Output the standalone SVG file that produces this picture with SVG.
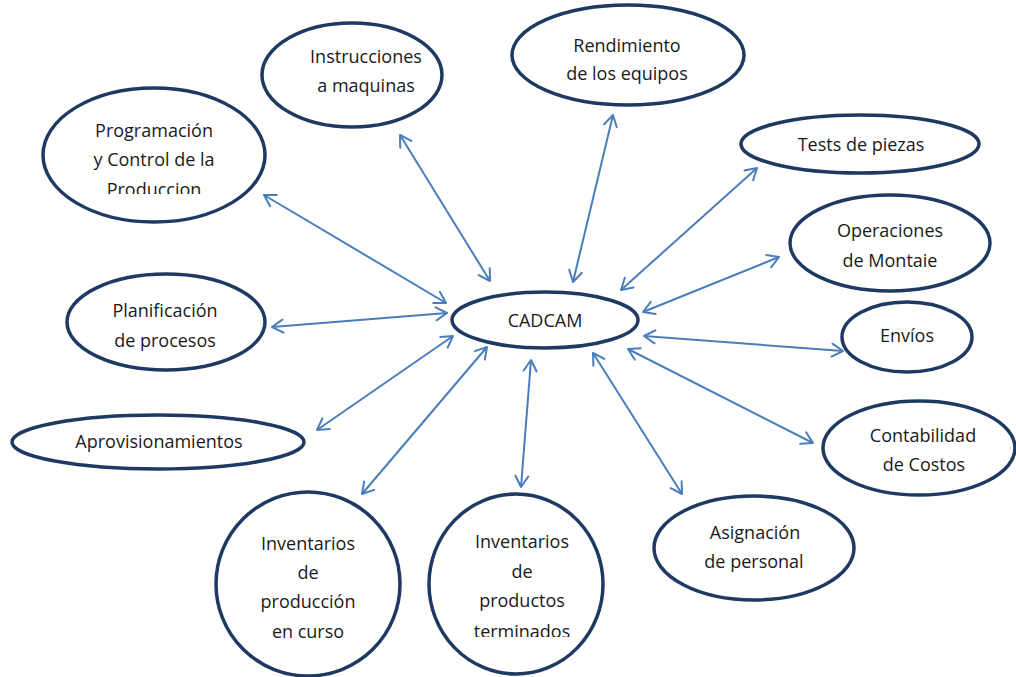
<svg xmlns="http://www.w3.org/2000/svg" width="1016" height="677" viewBox="0 0 1016 677">
  <style>
    .node ellipse { fill: #ffffff; stroke: #1f3a62; stroke-width: 3.5; }
    .node text { font-family: "Open Sans", "Liberation Sans", sans-serif; font-size: 18px; fill: #1a1a1a; text-anchor: middle; }
    #connectors line { stroke: #4a7ebb; stroke-width: 2; marker-start: url(#chev); marker-end: url(#chev); }
  </style>
  <defs>
    <marker id="chev" viewBox="-13 -8 15 16" refX="0" refY="0" markerWidth="15" markerHeight="16" markerUnits="userSpaceOnUse" orient="auto-start-reverse">
      <path d="M-11,-6.5 L0,0 L-11,6.5" fill="none" stroke="#4a7ebb" stroke-width="2" stroke-linecap="round" stroke-linejoin="round"/>
    </marker>
    <clipPath id="clipProg"><rect x="40" y="100" width="230" height="94"/></clipPath>
    <clipPath id="clipMont"><rect x="790" y="210" width="200" height="57"/></clipPath>
    <clipPath id="clipTerm"><rect x="430" y="520" width="175" height="117"/></clipPath>
  </defs>

  <rect width="1016" height="677" fill="#ffffff"/>

  <g id="connectors">
    <line x1="264" y1="195" x2="446" y2="303"/>
    <line x1="400" y1="135" x2="490" y2="281"/>
    <line x1="613" y1="115" x2="573" y2="282"/>
    <line x1="757" y1="168" x2="621" y2="290"/>
    <line x1="779" y1="257" x2="643" y2="312"/>
    <line x1="272" y1="327" x2="447" y2="313"/>
    <line x1="644" y1="336" x2="843" y2="351"/>
    <line x1="628" y1="349" x2="813" y2="443"/>
    <line x1="317" y1="430" x2="453" y2="336"/>
    <line x1="362" y1="494" x2="487" y2="347"/>
    <line x1="531" y1="360" x2="521" y2="487"/>
    <line x1="593" y1="353" x2="682" y2="494"/>
  </g>

  <g id="node-instrucciones" class="node">
    <ellipse cx="352" cy="75" rx="90" ry="52"/>
    <text x="366" y="63">Instrucciones</text>
    <text x="366" y="92">a maquinas</text>
  </g>

  <g id="node-rendimiento" class="node">
    <ellipse cx="628" cy="55" rx="116" ry="50"/>
    <text x="627" y="52">Rendimiento</text>
    <text x="627" y="80">de los equipos</text>
  </g>

  <g id="node-programacion" class="node">
    <ellipse cx="154" cy="155" rx="111" ry="67"/>
    <g clip-path="url(#clipProg)">
      <text x="154" y="137">Programación</text>
      <text x="154" y="166">y Control de la</text>
      <text x="154" y="196">Produccion</text>
    </g>
  </g>

  <g id="node-tests" class="node">
    <ellipse cx="860" cy="144" rx="119" ry="29"/>
    <text x="861" y="151">Tests de piezas</text>
  </g>

  <g id="node-montaje" class="node">
    <ellipse cx="890" cy="243" rx="100" ry="48"/>
    <g clip-path="url(#clipMont)">
      <text x="890" y="237">Operaciones</text>
      <text x="890" y="267">de Montaje</text>
    </g>
  </g>

  <g id="node-planificacion" class="node">
    <ellipse cx="166" cy="322" rx="99" ry="48"/>
    <text x="165" y="317">Planificación</text>
    <text x="165" y="347">de procesos</text>
  </g>

  <g id="node-cadcam" class="node">
    <ellipse cx="545" cy="320" rx="93" ry="28"/>
    <text x="545" y="327">CADCAM</text>
  </g>

  <g id="node-envios" class="node">
    <ellipse cx="907" cy="337" rx="65" ry="35"/>
    <text x="907" y="342">Envíos</text>
  </g>

  <g id="node-aprovisionamientos" class="node">
    <ellipse cx="158" cy="442" rx="146" ry="27"/>
    <text x="159" y="448">Aprovisionamientos</text>
  </g>

  <g id="node-contabilidad" class="node">
    <ellipse cx="919" cy="448" rx="96" ry="47"/>
    <text x="923" y="442">Contabilidad</text>
    <text x="924" y="471">de Costos</text>
  </g>

  <g id="node-curso" class="node">
    <ellipse cx="308" cy="584" rx="92" ry="92"/>
    <text x="308" y="550">Inventarios</text>
    <text x="308" y="579">de</text>
    <text x="308" y="608">producción</text>
    <text x="308" y="638">en curso</text>
  </g>

  <g id="node-terminados" class="node">
    <ellipse cx="516" cy="584" rx="87" ry="90"/>
    <g clip-path="url(#clipTerm)">
      <text x="522" y="548">Inventarios</text>
      <text x="522" y="578">de</text>
      <text x="522" y="607">productos</text>
      <text x="522" y="638">terminados</text>
    </g>
  </g>

  <g id="node-asignacion" class="node">
    <ellipse cx="754" cy="548" rx="100" ry="52"/>
    <text x="755" y="539">Asignación</text>
    <text x="754" y="568">de personal</text>
  </g>
</svg>
